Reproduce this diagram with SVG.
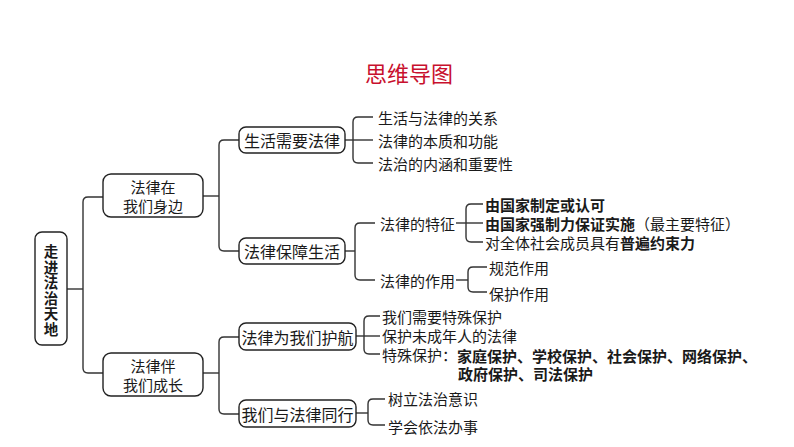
<svg xmlns="http://www.w3.org/2000/svg" width="794" height="447" viewBox="0 0 794 447">
<style>
text{font-family:"Noto Sans CJK SC","Noto Sans",sans-serif;fill:#1a1a1a;dominant-baseline:central}
.box{fill:#fff;stroke:#222;stroke-width:1.4}
.nt{font-size:16px;text-anchor:middle}
.n2{font-size:15px;text-anchor:middle}
.rt{font-size:14.5px;text-anchor:middle;font-weight:bold;writing-mode:vertical-rl;letter-spacing:1.1px}
.lf{font-size:15px}
.b{font-weight:bold}
.con path{fill:none;stroke:#333;stroke-width:1.4}
</style>
<rect width="794" height="447" fill="#fff"/>
<text x="409" y="72" style="font-size:22px;fill:#c8102e;text-anchor:middle">思维导图</text>
<g class="con" id="connectors">
<path d="M67,289 H83"/>
<path d="M103,197 H88 Q83,197 83,202 V368 Q83,373 88,373 H103"/>
<path d="M203,196 H219"/>
<path d="M239,140 H224 Q219,140 219,145 V246 Q219,251 224,251 H239"/>
<path d="M203,373 H219"/>
<path d="M239,337 H224 Q219,337 219,342 V409 Q219,414 224,414 H239"/>
<path d="M345,140 H373"/>
<path d="M373,117 H358 Q353,117 353,122 V158 Q353,163 358,163 H373"/>
<path d="M345,251 H355"/>
<path d="M375,223 H360 Q355,223 355,228 V275 Q355,280 360,280 H375"/>
<path d="M456,223 H483"/>
<path d="M483,204 H471 Q466,204 466,209 V237 Q466,242 471,242 H483"/>
<path d="M456,280 H468"/>
<path d="M487,267 H473 Q468,267 468,272 V287 Q468,292 473,292 H487"/>
<path d="M356,336 H380"/>
<path d="M380,316 H369 Q364,316 364,321 V349 Q364,354 369,354 H380"/>
<path d="M356,413 H368"/>
<path d="M385,399 H373 Q368,399 368,404 V420 Q368,425 373,425 H385"/>
</g>
<g id="root">
<rect class="box" x="35" y="232" width="32" height="113" rx="7"/>
<text class="rt" x="51" y="291">走进法治天地</text>
</g>
<g id="n1">
<rect class="box" x="103" y="174" width="100" height="43" rx="8"/>
<text class="n2" x="153" y="186">法律在</text>
<text class="n2" x="153" y="205">我们身边</text>
</g>
<g id="n2">
<rect class="box" x="103" y="353" width="100" height="43" rx="8"/>
<text class="n2" x="153" y="365">法律伴</text>
<text class="n2" x="153" y="384">我们成长</text>
</g>
<g id="n11">
<rect class="box" x="239" y="127" width="106" height="26" rx="7"/>
<text class="nt" x="292" y="140">生活需要法律</text>
</g>
<g id="n12">
<rect class="box" x="239" y="238" width="106" height="26" rx="7"/>
<text class="nt" x="292" y="251">法律保障生活</text>
</g>
<g id="n21">
<rect class="box" x="239" y="323" width="117" height="27" rx="7"/>
<text class="nt" x="297.5" y="336.5">法律为我们护航</text>
</g>
<g id="n22">
<rect class="box" x="239" y="400" width="117" height="27" rx="7"/>
<text class="nt" x="297.5" y="413.5">我们与法律同行</text>
</g>
<g id="leaves11">
<text class="lf" x="378" y="117">生活与法律的关系</text>
<text class="lf" x="378" y="140">法律的本质和功能</text>
<text class="lf" x="378" y="163">法治的内涵和重要性</text>
</g>
<g id="n121">
<text class="lf" x="380" y="223">法律的特征</text>
</g>
<g id="n122">
<text class="lf" x="380" y="280">法律的作用</text>
</g>
<g id="leaves121">
<text class="lf b" x="485" y="204">由国家制定或认可</text>
<text class="lf" x="485" y="223"><tspan class="b">由国家强制力保证实施</tspan>（最主要特征）</text>
<text class="lf" x="485" y="242">对全体社会成员具有<tspan class="b">普遍约束力</tspan></text>
</g>
<g id="leaves122">
<text class="lf" x="489" y="267">规范作用</text>
<text class="lf" x="489" y="293">保护作用</text>
</g>
<g id="leaves21">
<text class="lf" x="382" y="316">我们需要特殊保护</text>
<text class="lf" x="382" y="335.5">保护未成年人的法律</text>
<text class="lf" x="382" y="354.5">特殊保护：<tspan class="b">家庭保护、学校保护、社会保护、网络保护、</tspan></text>
<text class="lf b" x="458" y="373.5">政府保护、司法保护</text>
</g>
<g id="leaves22">
<text class="lf" x="388" y="398">树立法治意识</text>
<text class="lf" x="388" y="426">学会依法办事</text>
</g>
</svg>
